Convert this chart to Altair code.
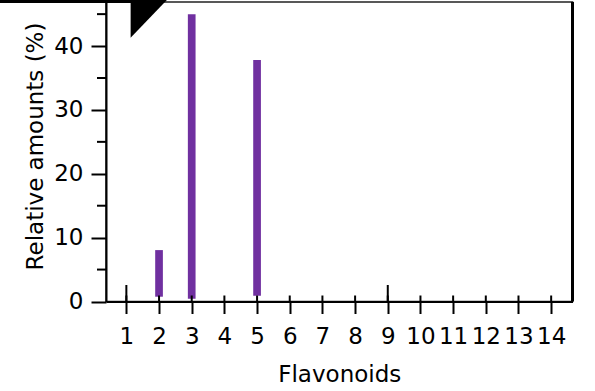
import altair as alt
import pandas as pd

# ---- data ----
flavonoids = [2, 3, 5]
amount_low = [0.75, 0.45, 0.9]
amount_high = [8.05, 45.0, 37.8]

x_ticks = list(range(1, 15))
x_long_ticks = [1, 9]
y_major = [0, 10, 20, 30, 40]
y_minor = [5, 15, 25, 35, 45]

# black triangle decoration in the top-left corner (data coordinates)
tri_x = [1.13, 2.24]
tri_y = [41.3, 47.2]
tri_top = [47.2, 47.2]

W, H = 466.5, 299.5
FONT = "DejaVu Sans"
FS = 23

xscale = alt.Scale(domain=[0.53, 14.5], nice=False, zero=False)
yscale = alt.Scale(domain=[0, 46.9], nice=False, zero=False)

bars_df = pd.DataFrame({"f": flavonoids, "lo": amount_low, "hi": amount_high})
xt_df = pd.DataFrame({"f": x_ticks})
xl_df = pd.DataFrame({"f": x_long_ticks})
ym_df = pd.DataFrame({"hi": y_minor})
tri_df = pd.DataFrame({"f": tri_x, "hi": tri_y, "lo": tri_top})
one = pd.DataFrame({"a": [0]})

x_axis = alt.Axis(
    values=x_ticks, format="d", title="Flavonoids", grid=False,
    domainColor="black", domainWidth=2, tickColor="black", tickWidth=2, tickSize=12,
    labelFont=FONT, labelFontSize=FS, labelColor="black", labelPadding=11.5,
    labelOverlap=False, labelFlush=False, labelBound=False,
    titleFont=FONT, titleFontSize=FS, titleFontWeight="normal", titleColor="black",
    titleX=W / 2, titleY=80, titleBaseline="alphabetic", titleAlign="center",
)
y_axis = alt.Axis(
    values=y_major, format="d", title="Relative amounts (%)", grid=False,
    domainColor="black", domainWidth=2, tickColor="black", tickWidth=2, tickSize=15,
    labelFont=FONT, labelFontSize=FS, labelColor="black", labelPadding=8,
    labelFlush=False, labelBound=False,
    titleFont=FONT, titleFontSize=FS, titleFontWeight="normal", titleColor="black",
    titleX=-64, titleY=144, titleAngle=270, titleBaseline="alphabetic", titleAlign="center",
)

X = alt.X("f:Q", scale=xscale, axis=x_axis)
Y = alt.Y("hi:Q", scale=yscale, axis=y_axis)

bars = alt.Chart(bars_df).mark_bar(size=7.7, color="#7030A0").encode(
    x=X, y=Y, y2="lo:Q",
)
short_ticks = alt.Chart(xt_df).mark_rule(color="black", strokeWidth=2).encode(
    x=X, y=alt.value(H - 6), y2=alt.value(H),
)
long_ticks = alt.Chart(xl_df).mark_rule(color="black", strokeWidth=2).encode(
    x=X, y=alt.value(H - 16.5), y2=alt.value(H),
)
minor_y = alt.Chart(ym_df).mark_rule(color="black", strokeWidth=2).encode(
    y=Y, x=alt.value(-9), x2=alt.value(0),
)
tri = alt.Chart(tri_df).mark_area(color="black", clip=False).encode(
    x=X, y=Y, y2="lo:Q",
)
right_border = alt.Chart(one).mark_rule(color="black", strokeWidth=3).encode(
    x=alt.value(W), y=alt.value(0), y2=alt.value(H),
)
top_band = alt.Chart(one).mark_rule(color="black", strokeWidth=3).encode(
    x=alt.value(-106), x2=alt.value(57), y=alt.value(-0.5),
)

chart = alt.layer(
    bars, short_ticks, long_ticks, minor_y, tri, right_border, top_band
).properties(
    width=W, height=H,
    padding={"left": 106, "top": 2, "right": 22.5, "bottom": 89.5},
    autosize=alt.AutoSizeParams(type="none"),
    background="white",
).configure_view(stroke="#222", strokeWidth=1.5)

chart.save("out.html", embed_options={"renderer": "svg", "actions": False})
